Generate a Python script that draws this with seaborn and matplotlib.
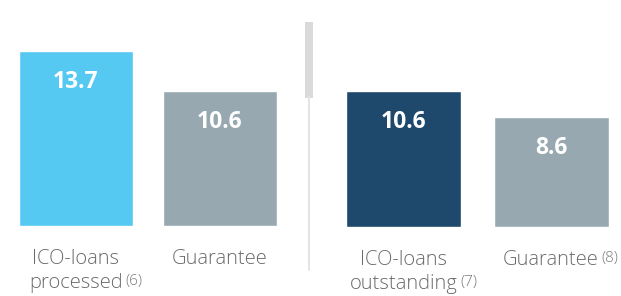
import matplotlib
matplotlib.use("Agg")
import matplotlib.pyplot as plt
import seaborn as sns
from matplotlib.patches import Rectangle
from matplotlib.lines import Line2D

# Data
left_cats = ["ICO-loans\nprocessed", "Guarantee"]
left_vals = [13.7, 10.6]
left_notes = ["(6)", ""]
right_cats = ["ICO-loans\noutstanding", "Guarantee"]
right_vals = [10.6, 8.6]
right_notes = ["(7)", "(8)"]

left_colors = ["#56C9F2", "#97A8B1"]
right_colors = ["#1E486C", "#97A8B1"]

sns.set_theme(style="white")
plt.rcParams["font.family"] = ["Open Sans", "DejaVu Sans"]

W, H = 621, 296
fig = plt.figure(figsize=(W / 100, H / 100), dpi=100)
ymax = 17.7

ax1 = fig.add_axes([4 / W, 70 / H, 288 / W, 226 / H])
ax2 = fig.add_axes([330 / W, 69 / H, 291 / W, 227 / H])


def draw_panel(ax, cats, vals, notes, colors, width, xlim):
    sns.barplot(x=cats, y=vals, hue=cats, palette=colors, width=width,
                saturation=1, legend=False, ax=ax)
    ax.set_xlim(*xlim)
    ax.set_ylim(0, ymax)
    ax.axis("off")
    for i, (cat, val, note) in enumerate(zip(cats, vals, notes)):
        # value inside the bar
        ax.annotate(f"{val:.1f}", xy=(i, val), xytext=(0, -22.5),
                    textcoords="offset points", ha="center", va="center",
                    color="white", fontsize=16.5, fontweight="bold")
        # category label under the bar
        lines = cat.split("\n")
        for j, line in enumerate(lines):
            ax.annotate(line, xy=(i, 0), xycoords=ax.get_xaxis_transform(),
                        xytext=(0, -27.5 - 17.3 * j), textcoords="offset points",
                        ha="center", va="baseline", fontsize=14.5,
                        fontweight="light", color="#6A6A6A",
                        annotation_clip=False)
        if note:
            last = ax.texts[-1]
            ax.annotate(note, xy=(1, 0), xycoords=last, xytext=(2, 3),
                        textcoords="offset points", ha="left", va="bottom",
                        fontsize=11, fontweight="light", color="#7A7A7A",
                        annotation_clip=False)


draw_panel(ax1, left_cats, left_vals, left_notes, left_colors, 0.785, (-0.5, 1.5))
draw_panel(ax2, right_cats, right_vals, right_notes, right_colors, 0.782, (-0.503, 1.476))

# separator between the two groups
fig.add_artist(Line2D([309 / W, 309 / W], [1 - 270 / H, 1 - 96 / H],
                      color="#E4E4E4", linewidth=1.4))
fig.add_artist(Rectangle((305 / W, 1 - 98 / H), 8 / W, 76 / H,
                         facecolor="#DADADA", edgecolor="none"))

fig.savefig("out.png", dpi=100)
